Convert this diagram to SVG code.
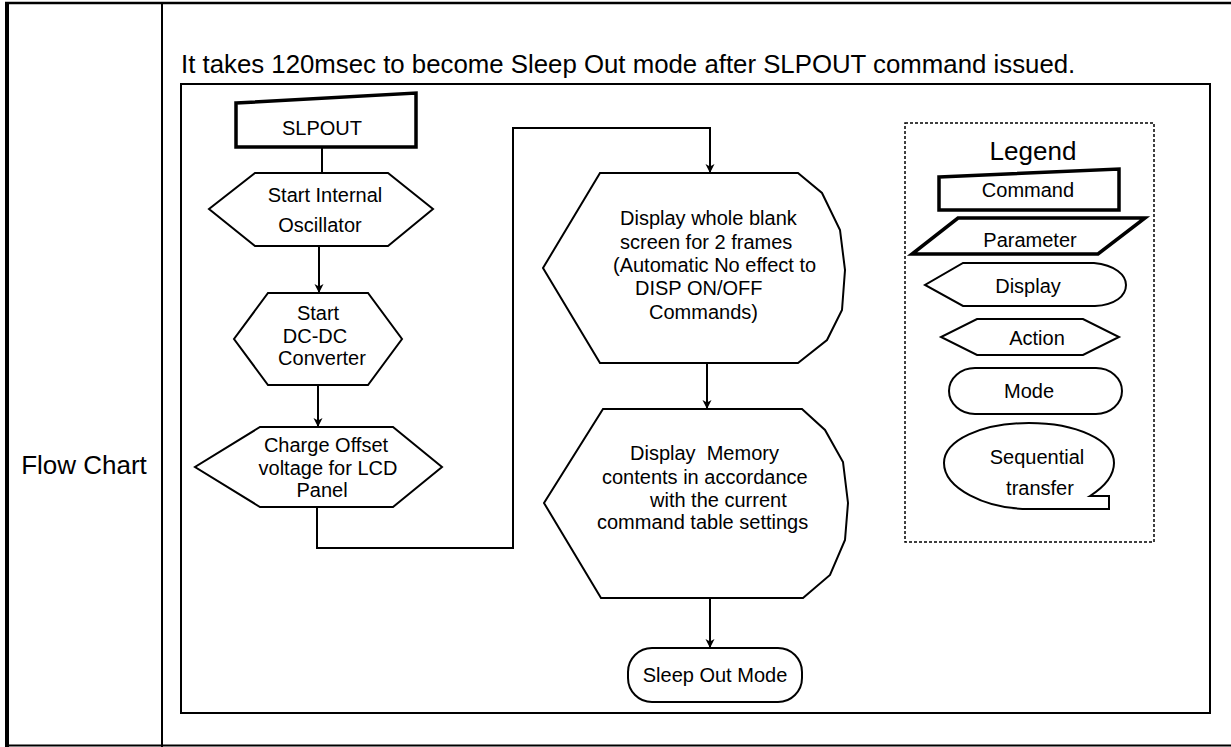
<svg xmlns="http://www.w3.org/2000/svg" width="1231" height="747" viewBox="0 0 1231 747">
<style>
text{font-family:"Liberation Sans",Arial,sans-serif;fill:#000}
.t{font-size:20px}
.c{text-anchor:middle}
.n{fill:#fff;stroke:#000;stroke-width:2}
.cmd{fill:#fff;stroke:#000;stroke-width:3.5;stroke-linejoin:miter}
.ln{fill:none;stroke:#000;stroke-width:2}
</style>
<defs>
<marker id="ah" markerUnits="userSpaceOnUse" markerWidth="10" markerHeight="10" refX="9" refY="5" orient="auto">
<path d="M0,0.5 L9,5 L0,9.5 L2.5,5 Z" fill="#000"/>
</marker>
</defs>
<rect x="0" y="0" width="1231" height="747" fill="#fff"/>
<g id="table">
<line x1="5" y1="3" x2="1231" y2="3" stroke="#000" stroke-width="2.5"/>
<line x1="7" y1="2" x2="7" y2="747" stroke="#000" stroke-width="4"/>
<line x1="162" y1="2" x2="162" y2="747" stroke="#000" stroke-width="2"/>
<line x1="5" y1="745.5" x2="1231" y2="745.5" stroke="#000" stroke-width="2"/>
<text x="84" y="474" class="c" font-size="26">Flow Chart</text>
<text x="181" y="73" font-size="25.8">It takes 120msec to become Sleep Out mode after SLPOUT command issued.</text>
<rect x="181" y="84" width="1029" height="629" fill="none" stroke="#000" stroke-width="2"/>
</g>
<g id="connectors">
<line class="ln" x1="322" y1="147" x2="322" y2="173"/>
<line class="ln" x1="319" y1="246" x2="319" y2="293" marker-end="url(#ah)"/>
<line class="ln" x1="318" y1="385" x2="318" y2="427" marker-end="url(#ah)"/>
<polyline class="ln" points="317,507 317,548 513,548 513,128 710,128 710,173" marker-end="url(#ah)"/>
<line class="ln" x1="707" y1="363" x2="707" y2="409" marker-end="url(#ah)"/>
<line class="ln" x1="710" y1="598" x2="710" y2="648" marker-end="url(#ah)"/>
</g>
<g id="slpout">
<path class="cmd" d="M236,103 L416,93 L416,147 L236,147 Z"/>
<text x="322" y="135" class="t c">SLPOUT</text>
</g>
<g id="osc">
<polygon class="n" points="255,173 388,173 433,209 388,246 255,246 209,209"/>
<text x="325" y="202" class="t c">Start Internal</text>
<text x="320" y="232" class="t c">Oscillator</text>
</g>
<g id="dcdc">
<polygon class="n" points="268,293 368,293 402,339 368,385 268,385 234,339"/>
<text x="318" y="320" class="t c">Start</text>
<text x="315" y="343" class="t c">DC-DC</text>
<text x="322" y="365" class="t c">Converter</text>
</g>
<g id="charge">
<polygon class="n" points="260,427 393,427 442,467 393,507 260,507 195,467"/>
<text x="326" y="452" class="t c">Charge Offset</text>
<text x="328" y="475" class="t c">voltage for LCD</text>
<text x="322" y="497" class="t c">Panel</text>
</g>
<g id="blank">
<path class="n" d="M600,173 L798,173 L822,193 L840,230 L845,270 L842,310 L827,340 L798,363 L600,363 L543,268 Z"/>
<text x="620" y="225" class="t">Display whole blank</text>
<text x="620" y="249" class="t">screen for 2 frames</text>
<text x="613" y="272" class="t">(Automatic No effect to</text>
<text x="635" y="295" class="t">DISP ON/OFF</text>
<text x="649" y="319" class="t">Commands)</text>
</g>
<g id="memory">
<path class="n" d="M603,409 L802,409 L825,430 L843,462 L848,503 L845,540 L830,575 L803,598 L601,598 L544,503 Z"/>
<text x="630" y="460" class="t" xml:space="preserve">Display  Memory</text>
<text x="602" y="484" class="t">contents in accordance</text>
<text x="650" y="507" class="t">with the current</text>
<text x="597" y="529" class="t">command table settings</text>
</g>
<g id="sleepout">
<rect class="n" x="628" y="648" width="174" height="54" rx="24" ry="24"/>
<text x="715" y="682" class="t c">Sleep Out Mode</text>
</g>
<g id="legend">
<rect x="905" y="123" width="249" height="419" fill="none" stroke="#000" stroke-width="1.5" stroke-dasharray="3,2"/>
<text x="1033" y="160" class="c" font-size="26">Legend</text>
<path class="cmd" d="M939,177 L1119,169 L1119,210 L939,210 Z" stroke-width="3"/>
<text x="1028" y="197" class="t c">Command</text>
<path class="cmd" d="M958,218 L1145,218 L1098,254 L912,254 Z"/>
<text x="1030" y="247" class="t c">Parameter</text>
<path class="n" d="M963,263 L1094,263 C1115,265 1126,275 1126,285 C1126,296 1115,305 1095,306 L963,306 L925,285 Z"/>
<text x="1028" y="293" class="t c">Display</text>
<polygon class="n" points="977,319 1083,319 1119,337 1083,355 977,355 941,337"/>
<text x="1037" y="345" class="t c">Action</text>
<rect class="n" x="949" y="368" width="173" height="46" rx="26" ry="23"/>
<text x="1029" y="398" class="t c">Mode</text>
<path class="n" d="M1109,509 L1109,496 L1090,496 C1104,487 1114,476 1114,463 C1114,440 1076,423 1029,423 C982,423 944,440 944,463 C944,488 985,509 1029,509 Z"/>
<text x="1037" y="464" class="t c">Sequential</text>
<text x="1040" y="495" class="t c">transfer</text>
</g>
</svg>
